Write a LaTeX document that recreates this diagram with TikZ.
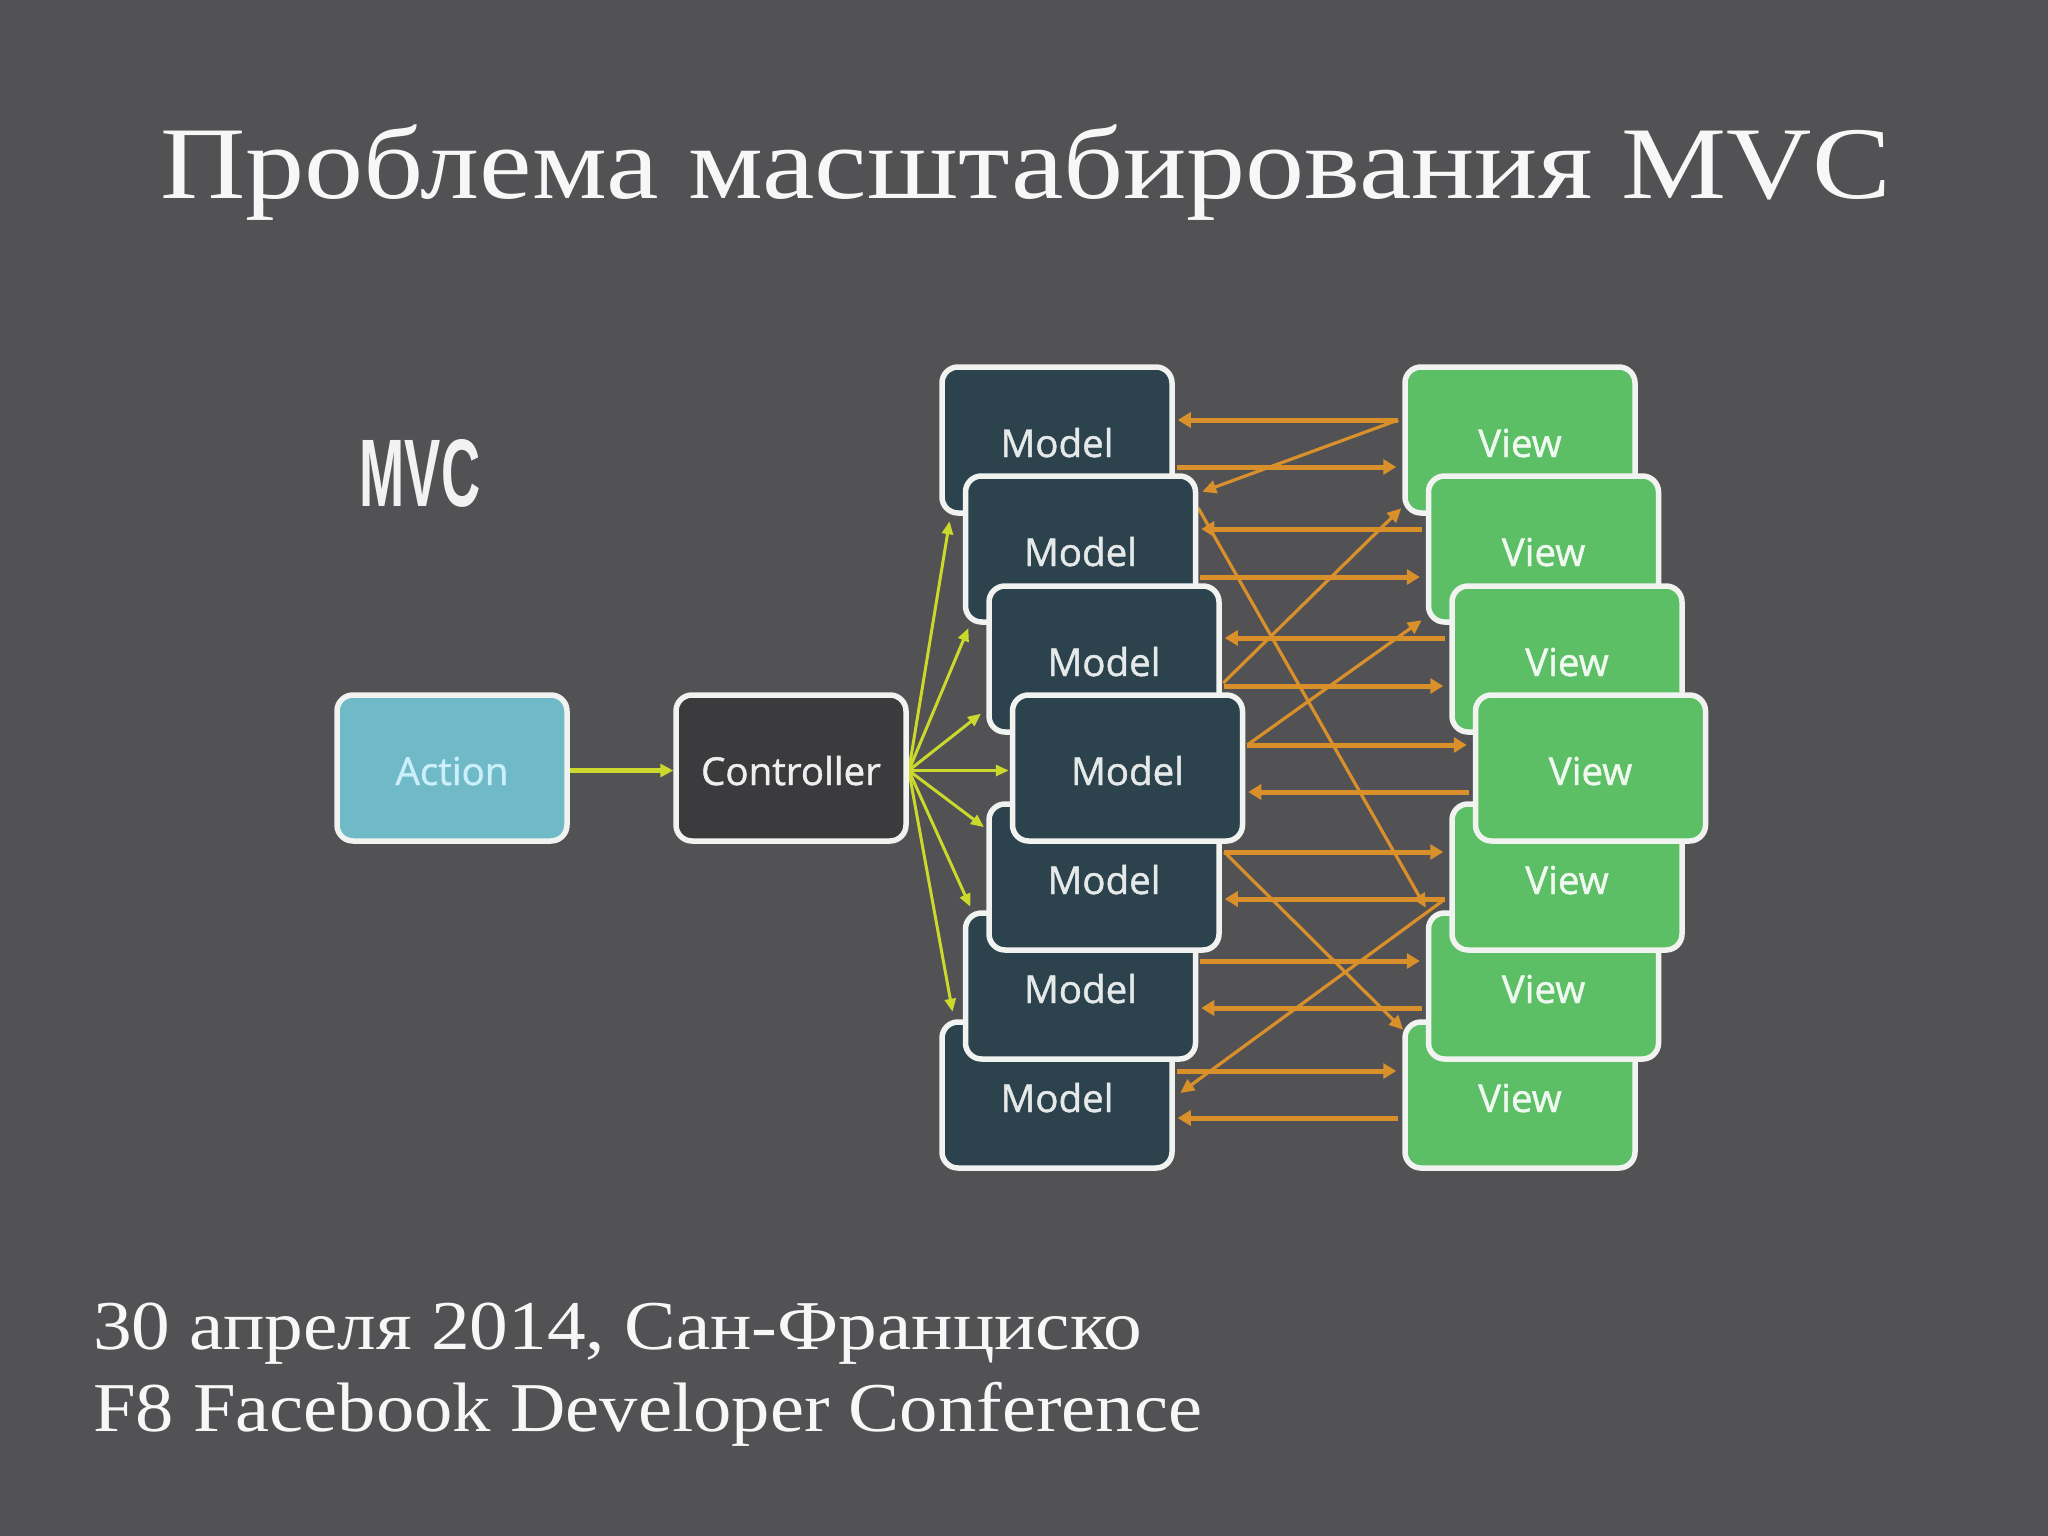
\documentclass[tikz,border=0pt]{standalone}
\usepackage{fontspec}
\usepackage{graphicx}
\usetikzlibrary{arrows.meta}
\setmainfont[FakeStretch=1.105]{Liberation Serif}
\newfontfamily\titlefont[FakeStretch=1.147]{Liberation Serif}
\newfontfamily\lowerfont[FakeStretch=1.095]{Liberation Serif}
\newfontfamily\boxfont[FakeBold=1.2]{Open Sans}
\newfontfamily\mvcfont{Liberation Sans}
\definecolor{bgc}{HTML}{525254}
\definecolor{whitec}{HTML}{F0F3F0}
\definecolor{modelc}{HTML}{2C434E}
\definecolor{viewc}{HTML}{5CBF66}
\definecolor{actionc}{HTML}{6FBAC6}
\definecolor{ctrlc}{HTML}{3B3A3C}
\definecolor{orangec}{HTML}{D9902A}
\definecolor{yellowc}{HTML}{CBD92C}
\pgfdeclarelayer{boxes}
\pgfsetlayers{main,boxes}
\tikzset{
  boxbase/.style={draw=whitec,line width=5.5pt,rounded corners=16pt,minimum width=230pt,minimum height=146pt,inner sep=0pt,text height=34pt,text depth=0pt,font=\boxfont\fontsize{38.5}{38.5}\selectfont},
  modelbox/.style={boxbase,fill=modelc,text=white!88!modelc},
  viewbox/.style={boxbase,fill=viewc,text=white!90!viewc},
  actionbox/.style={boxbase,fill=actionc,text=white!80!cyan},
  ctrlbox/.style={boxbase,fill=ctrlc,text=white!92!ctrlc},
  yarrow/.style={yellowc,line width=3pt,-{Triangle[length=13pt,width=11pt]},shorten >=1pt},
  yarrowthick/.style={yellowc,line width=4.5pt,-{Triangle[length=13pt,width=13pt]}},
  oarrow/.style={orangec,line width=5pt,-{Triangle[length=13pt,width=15pt]}},
  odiag/.style={orangec,line width=3.2pt,-{Triangle[length=14pt,width=13pt]}},
  slidetext/.style={text=white!97!black,anchor=base west,inner sep=0pt},
}
\begin{document}
\begin{tikzpicture}[x=1pt,y=-1pt]
\useasboundingbox[fill=bgc] (0,0) rectangle (2048,1536);
% text
\node[slidetext,font=\titlefont\fontsize{103}{103}\selectfont] (title) at (160,198) {Проблема масштабирования MVC};
\node[slidetext,font=\fontsize{70}{70}\selectfont] (line1) at (93,1349) {30 апреля 2014, Сан-Франциско};
\node[slidetext,font=\lowerfont\fontsize{70}{70}\selectfont] (line2) at (93,1431) {F8 Facebook Developer Conference};
\node[text=white!95!black,anchor=center,inner sep=0pt] (mvc) at (420,473) {\scalebox{0.565}[1]{\mvcfont\bfseries\fontsize{96}{96}\selectfont MVC}};
\begin{pgfonlayer}{boxes}
\node[actionbox] (action) at (452,768) {Action};
\node[ctrlbox] (ctrl) at (791,768) {Controller};
\node[modelbox] (m1) at (1057,440) {Model};
\node[modelbox] (m2) at (1080.5,549) {Model};
\node[modelbox] (m3) at (1104,659) {Model};
\node[modelbox] (m7) at (1057,1095) {Model};
\node[modelbox] (m6) at (1080.5,986) {Model};
\node[modelbox] (m5) at (1104,877) {Model};
\node[modelbox] (m4) at (1127.5,768) {Model};
\node[viewbox] (v1) at (1520,440) {View};
\node[viewbox] (v2) at (1543.5,549) {View};
\node[viewbox] (v3) at (1567,659) {View};
\node[viewbox] (v7) at (1520,1095) {View};
\node[viewbox] (v6) at (1543.5,986) {View};
\node[viewbox] (v5) at (1567,877) {View};
\node[viewbox] (v4) at (1590.5,768) {View};
\end{pgfonlayer}
% yellow
\draw[yarrowthick] ([yshift=-2.5pt]action.east) -- ([yshift=-2.5pt]ctrl.west);
\draw[yarrow] ([yshift=-2.5pt]ctrl.east) -- ([xshift=10.5pt,yshift=-4.5pt]m1.south west);
\draw[yarrow] ([yshift=-2.5pt]ctrl.east) -- ([xshift=6pt,yshift=-2.5pt]m2.south west);
\draw[yarrow] ([yshift=-2.5pt]ctrl.east) -- ([xshift=-4.5pt,yshift=-54pt]m3.west);
\draw[yarrow] ([yshift=-2.5pt]ctrl.east) -- ([yshift=-2.5pt]m4.west);
\draw[yarrow] ([yshift=-2.5pt]ctrl.east) -- ([xshift=-1.5pt,yshift=-26.5pt]m5.north west);
\draw[yarrow] ([yshift=-2.5pt]ctrl.east) -- ([xshift=8pt,yshift=2.5pt]m6.north west);
\draw[yarrow] ([yshift=-2.5pt]ctrl.east) -- ([xshift=13.5pt,yshift=6.5pt]m7.north west);
% orange horizontals
\foreach \a/\b/\up/\dn in {1/1/20/-27,2/2/20/-28,3/3/21/-27}{
  \draw[oarrow,shorten <=4pt,shorten >=3pt] ([yshift=\up pt]v\a.west) -- ([yshift=\up pt]m\a.east);
  \draw[oarrow,shorten <=2pt,shorten >=6pt] ([yshift=\dn pt]m\a.east) -- ([yshift=\dn pt]v\a.west);
}
\foreach \a/\dn/\up in {4/-24/23,5/-22/25,6/-22/25,7/-23/24}{
  \draw[oarrow,shorten <=4pt,shorten >=3pt] ([yshift=\dn pt]v\a.west) -- ([yshift=\dn pt]m\a.east);
  \draw[oarrow,shorten <=2pt,shorten >=6pt] ([yshift=\up pt]m\a.east) -- ([yshift=\up pt]v\a.west);
}
% orange diagonals
\draw[odiag] ([xshift=-4pt,yshift=20pt]v1.west) -- ([xshift=4pt,yshift=-18.5pt]m2.north east);
\draw[odiag] ([yshift=41pt]m2.east) -- ([xshift=0pt,yshift=2.5pt]v6.north west);
\draw[odiag] ([xshift=1.5pt,yshift=-24pt]m3.east) -- ([xshift=-1pt,yshift=7.5pt]v1.south west);
\draw[odiag] ([xshift=2pt,yshift=23pt]m4.east) -- ([xshift=-4pt,yshift=4.5pt]v2.south west);
\draw[odiag] ([xshift=2.5pt,yshift=25pt]m5.east) -- ([xshift=1pt,yshift=-10.5pt]v7.north west);
\draw[odiag] ([xshift=-5.5pt,yshift=-23pt]v5.west) -- ([xshift=5.5pt,yshift=2pt]m7.east);
\end{tikzpicture}
\end{document}
